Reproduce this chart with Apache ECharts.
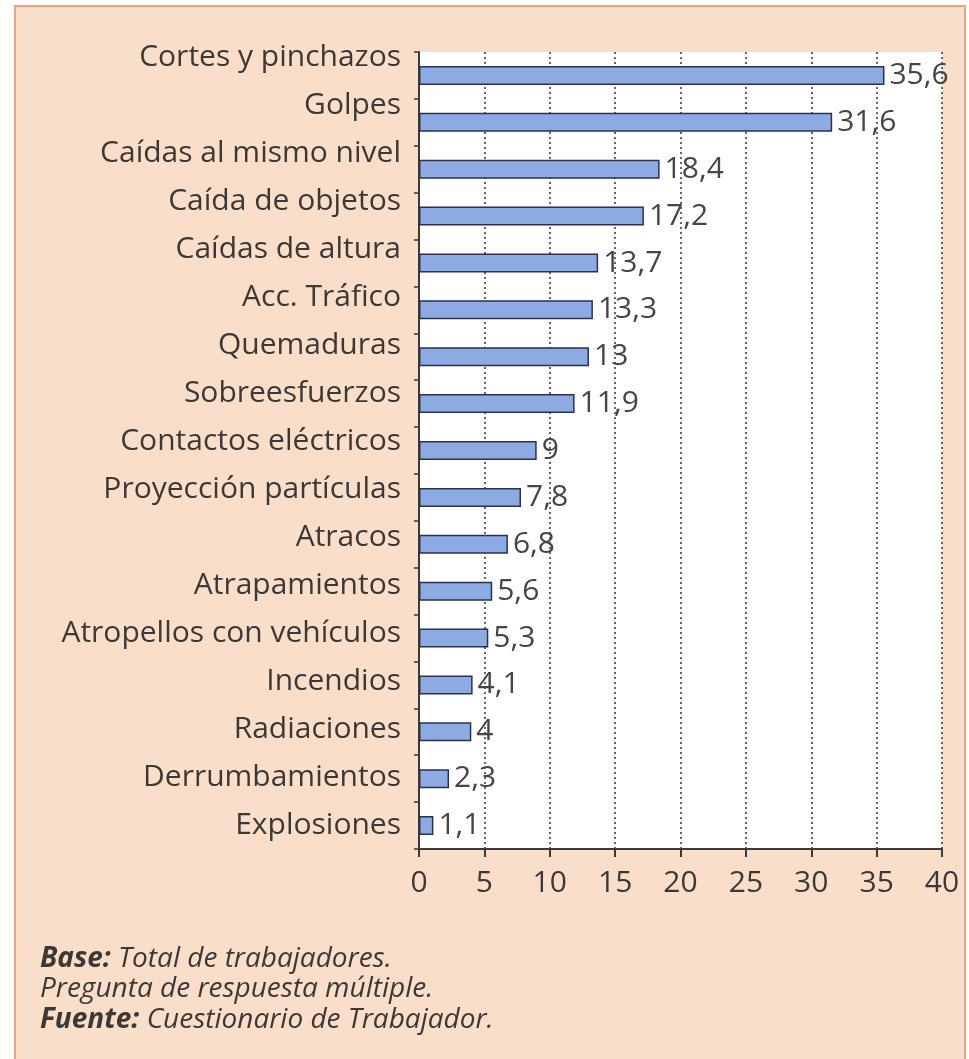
<!DOCTYPE html>
<html>
<head>
<meta charset="utf-8">
<script src="https://cdn.jsdelivr.net/npm/echarts@6/dist/echarts.min.js"></script>
<style>
  html, body { margin: 0; padding: 0; background: #ffffff; }
  #chart { width: 969px; height: 1059px; }
</style>
</head>
<body>
<div id="chart"></div>
<script>
// Accident types reported by workers (% of total, multiple answer)
const categories = [
  'Cortes y pinchazos', 'Golpes', 'Caídas al mismo nivel', 'Caída de objetos',
  'Caídas de altura', 'Acc. Tráfico', 'Quemaduras', 'Sobreesfuerzos',
  'Contactos eléctricos', 'Proyección partículas', 'Atracos', 'Atrapamientos',
  'Atropellos con vehículos', 'Incendios', 'Radiaciones', 'Derrumbamientos',
  'Explosiones'
];
const values = [35.6, 31.6, 18.4, 17.2, 13.7, 13.3, 13, 11.9, 9, 7.8, 6.8, 5.6, 5.3, 4.1, 4, 2.3, 1.1];
const xTicks = [0, 5, 10, 15, 20, 25, 30, 35, 40];
const notes = [
  ['Base:', ' Total de trabajadores.'],
  ['', 'Pregunta de respuesta múltiple.'],
  ['Fuente:', ' Cuestionario de Trabajador.']
];

const FONT = '"Open Sans", "Noto Sans", sans-serif';
const TEXT = '#3d3834';

// Category names sit slightly above their bars, more so towards the top of the list.
const labelRich = {};
categories.forEach((c, i) => {
  const lift = Math.round(18 - 18 * i / (categories.length - 1));
  labelRich['c' + i] = {
    fontFamily: FONT, fontSize: 30, color: TEXT,
    padding: [0, 0, lift * 2, 0]
  };
});

const chart = echarts.init(document.getElementById('chart'), null, { renderer: 'canvas' });

const noteGraphics = notes.map((n, i) => ({
  type: 'text',
  left: 40,
  top: 945 + i * 30.5,
  z: 10,
  style: {
    text: (n[0] ? '{b|' + n[0] + '}' : '') + '{n|' + n[1] + '}',
    rich: {
      b: { fontFamily: FONT, fontSize: 28, fontStyle: 'italic', fontWeight: 'bold', fill: TEXT },
      n: { fontFamily: FONT, fontSize: 28, fontStyle: 'italic', fill: TEXT }
    }
  }
}));

chart.setOption({
  backgroundColor: '#ffffff',
  animation: false,
  graphic: [
    {
      type: 'rect',
      shape: { x: 15, y: 6, width: 950, height: 1070 },
      z: -10,
      style: { fill: '#f9dfca', stroke: '#e9a57e', lineWidth: 2 }
    }
  ].concat(noteGraphics),
  grid: {
    left: 419, right: 27, top: 52, bottom: 210,
    show: true, backgroundColor: '#ffffff', borderWidth: 0
  },
  xAxis: {
    type: 'value',
    min: 0, max: 40, interval: 5,
    axisLine: { show: true, lineStyle: { color: '#3a3a3a', width: 2 } },
    axisTick: { show: true, length: 8, inside: false, lineStyle: { color: '#3a3a3a', width: 2 } },
    axisLabel: {
      fontFamily: FONT, fontSize: 30, color: TEXT, margin: 19,
      formatter: v => xTicks.includes(v) ? String(v) : ''
    },
    splitLine: { show: true, lineStyle: { color: '#333333', width: 1.5, type: [2, 3] } }
  },
  yAxis: {
    type: 'category',
    data: categories,
    inverse: true,
    axisLine: { show: true, lineStyle: { color: '#3a3a3a', width: 2 } },
    axisTick: { show: true, length: 5, lineStyle: { color: '#3a3a3a', width: 1.5 } },
    axisLabel: {
      margin: 18,
      formatter: (v, i) => '{c' + i + '|' + v + '}',
      rich: labelRich
    }
  },
  series: [{
    type: 'bar',
    data: values,
    barWidth: 19,
    itemStyle: { color: '#8eaae2', borderColor: '#2b3150', borderWidth: 1.5 },
    label: {
      show: true, position: 'right', distance: 5,
      fontFamily: FONT, fontSize: 30, color: '#484644',
      formatter: p => String(p.value).replace('.', ',')
    },
    z: 3
  }]
});
</script>
</body>
</html>
